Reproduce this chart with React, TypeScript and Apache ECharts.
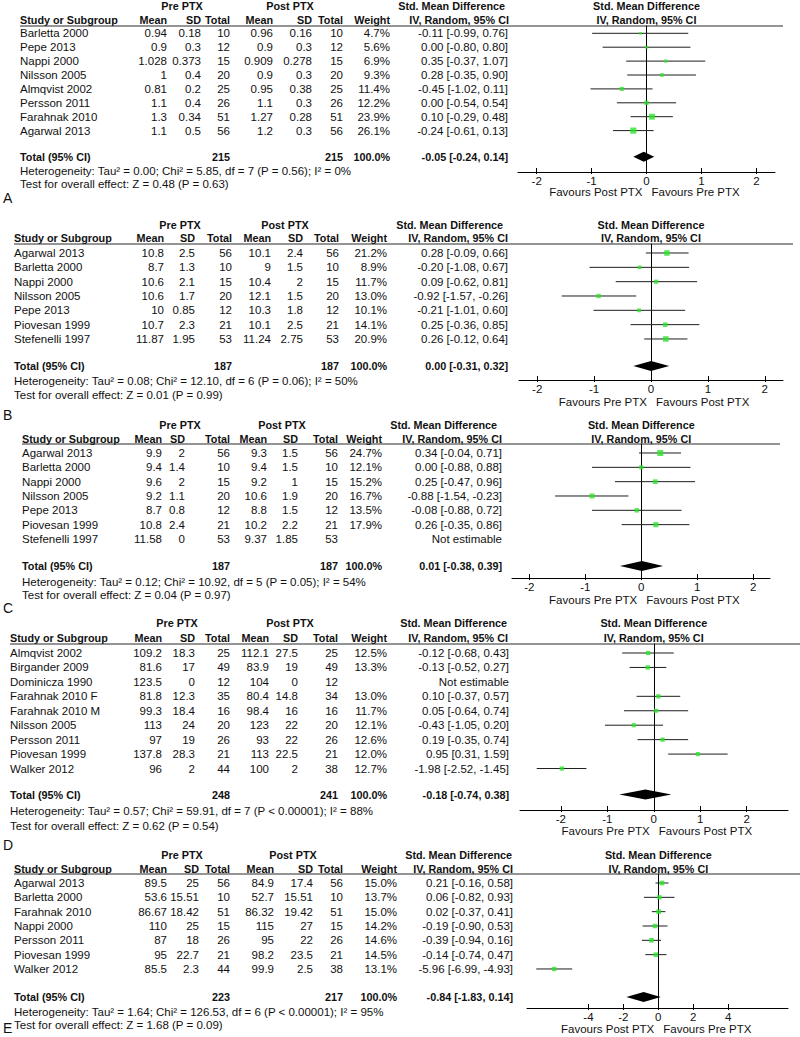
import React, { useEffect, useRef } from "react";
import * as echarts from "echarts";

// Row: study, pre mean, pre SD, pre total, post mean, post SD, post total, weight %, SMD, CI low, CI high
type Row = [string, string, string, number, string, string, number, number | null, number | null, number | null, number | null];

const A_ROWS: Row[] = [
  ["Barletta 2000", "0.94", "0.18", 10, "0.96", "0.16", 10, 4.7, -0.11, -0.99, 0.76],
  ["Pepe 2013", "0.9", "0.3", 12, "0.9", "0.3", 12, 5.6, 0.0, -0.8, 0.8],
  ["Nappi 2000", "1.028", "0.373", 15, "0.909", "0.278", 15, 6.9, 0.35, -0.37, 1.07],
  ["Nilsson 2005", "1", "0.4", 20, "0.9", "0.3", 20, 9.3, 0.28, -0.35, 0.9],
  ["Almqvist 2002", "0.81", "0.2", 25, "0.95", "0.38", 25, 11.4, -0.45, -1.02, 0.11],
  ["Persson 2011", "1.1", "0.4", 26, "1.1", "0.3", 26, 12.2, 0.0, -0.54, 0.54],
  ["Farahnak 2010", "1.3", "0.34", 51, "1.27", "0.28", 51, 23.9, 0.1, -0.29, 0.48],
  ["Agarwal 2013", "1.1", "0.5", 56, "1.2", "0.3", 56, 26.1, -0.24, -0.61, 0.13],
];
const A_TOTAL = [215, 215, -0.05, -0.24, 0.14];
const A_HET = "Heterogeneity: Tau² = 0.00; Chi² = 5.85, df = 7 (P = 0.56); I² = 0%";
const A_TEST = "Test for overall effect: Z = 0.48 (P = 0.63)";
const A_FAVOURS = ["Favours Post PTX", "Favours Pre PTX"];

const B_ROWS: Row[] = [
  ["Agarwal 2013", "10.8", "2.5", 56, "10.1", "2.4", 56, 21.2, 0.28, -0.09, 0.66],
  ["Barletta 2000", "8.7", "1.3", 10, "9", "1.5", 10, 8.9, -0.2, -1.08, 0.67],
  ["Nappi 2000", "10.6", "2.1", 15, "10.4", "2", 15, 11.7, 0.09, -0.62, 0.81],
  ["Nilsson 2005", "10.6", "1.7", 20, "12.1", "1.5", 20, 13.0, -0.92, -1.57, -0.26],
  ["Pepe 2013", "10", "0.85", 12, "10.3", "1.8", 12, 10.1, -0.21, -1.01, 0.6],
  ["Piovesan 1999", "10.7", "2.3", 21, "10.1", "2.5", 21, 14.1, 0.25, -0.36, 0.85],
  ["Stefenelli 1997", "11.87", "1.95", 53, "11.24", "2.75", 53, 20.9, 0.26, -0.12, 0.64],
];
const B_TOTAL = [187, 187, 0.0, -0.31, 0.32];
const B_HET = "Heterogeneity: Tau² = 0.08; Chi² = 12.10, df = 6 (P = 0.06); I² = 50%";
const B_TEST = "Test for overall effect: Z = 0.01 (P = 0.99)";
const B_FAVOURS = ["Favours Pre PTX", "Favours Post PTX"];

const C_ROWS: Row[] = [
  ["Agarwal 2013", "9.9", "2", 56, "9.3", "1.5", 56, 24.7, 0.34, -0.04, 0.71],
  ["Barletta 2000", "9.4", "1.4", 10, "9.4", "1.5", 10, 12.1, 0.0, -0.88, 0.88],
  ["Nappi 2000", "9.6", "2", 15, "9.2", "1", 15, 15.2, 0.25, -0.47, 0.96],
  ["Nilsson 2005", "9.2", "1.1", 20, "10.6", "1.9", 20, 16.7, -0.88, -1.54, -0.23],
  ["Pepe 2013", "8.7", "0.8", 12, "8.8", "1.5", 12, 13.5, -0.08, -0.88, 0.72],
  ["Piovesan 1999", "10.8", "2.4", 21, "10.2", "2.2", 21, 17.9, 0.26, -0.35, 0.86],
  ["Stefenelli 1997", "11.58", "0", 53, "9.37", "1.85", 53, null, null, null, null],
];
const C_TOTAL = [187, 187, 0.01, -0.38, 0.39];
const C_HET = "Heterogeneity: Tau² = 0.12; Chi² = 10.92, df = 5 (P = 0.05); I² = 54%";
const C_TEST = "Test for overall effect: Z = 0.04 (P = 0.97)";
const C_FAVOURS = ["Favours Pre PTX", "Favours Post PTX"];

const D_ROWS: Row[] = [
  ["Almqvist 2002", "109.2", "18.3", 25, "112.1", "27.5", 25, 12.5, -0.12, -0.68, 0.43],
  ["Birgander 2009", "81.6", "17", 49, "83.9", "19", 49, 13.3, -0.13, -0.52, 0.27],
  ["Dominicza 1990", "123.5", "0", 12, "104", "0", 12, null, null, null, null],
  ["Farahnak 2010 F", "81.8", "12.3", 35, "80.4", "14.8", 34, 13.0, 0.1, -0.37, 0.57],
  ["Farahnak 2010 M", "99.3", "18.4", 16, "98.4", "16", 16, 11.7, 0.05, -0.64, 0.74],
  ["Nilsson 2005", "113", "24", 20, "123", "22", 20, 12.1, -0.43, -1.05, 0.2],
  ["Persson 2011", "97", "19", 26, "93", "22", 26, 12.6, 0.19, -0.35, 0.74],
  ["Piovesan 1999", "137.8", "28.3", 21, "113", "22.5", 21, 12.0, 0.95, 0.31, 1.59],
  ["Walker 2012", "96", "2", 44, "100", "2", 38, 12.7, -1.98, -2.52, -1.45],
];
const D_TOTAL = [248, 241, -0.18, -0.74, 0.38];
const D_HET = "Heterogeneity: Tau² = 0.57; Chi² = 59.91, df = 7 (P < 0.00001); I² = 88%";
const D_TEST = "Test for overall effect: Z = 0.62 (P = 0.54)";
const D_FAVOURS = ["Favours Pre PTX", "Favours Post PTX"];

const E_ROWS: Row[] = [
  ["Agarwal 2013", "89.5", "25", 56, "84.9", "17.4", 56, 15.0, 0.21, -0.16, 0.58],
  ["Barletta 2000", "53.6", "15.51", 10, "52.7", "15.51", 10, 13.7, 0.06, -0.82, 0.93],
  ["Farahnak 2010", "86.67", "18.42", 51, "86.32", "19.42", 51, 15.0, 0.02, -0.37, 0.41],
  ["Nappi 2000", "110", "25", 15, "115", "27", 15, 14.2, -0.19, -0.9, 0.53],
  ["Persson 2011", "87", "18", 26, "95", "22", 26, 14.6, -0.39, -0.94, 0.16],
  ["Piovesan 1999", "95", "22.7", 21, "98.2", "23.5", 21, 14.5, -0.14, -0.74, 0.47],
  ["Walker 2012", "85.5", "2.3", 44, "99.9", "2.5", 38, 13.1, -5.96, -6.99, -4.93],
];
const E_TOTAL = [223, 217, -0.84, -1.83, 0.14];
const E_HET = "Heterogeneity: Tau² = 1.64; Chi² = 126.53, df = 6 (P < 0.00001); I² = 95%";
const E_TEST = "Test for overall effect: Z = 1.68 (P = 0.09)";
const E_FAVOURS = ["Favours Post PTX", "Favours Pre PTX"];

const TICKS_STD = [-2, -1, 0, 1, 2];
const TICKS_WIDE = [-4, -2, 0, 2, 4];
const LETTERS = ["A", "B", "C", "D", "E"];

// ---- layout (positions only) ----
const L = [
  { letterY: 198, nameX: 20, cols: [167, 201, 230, 273, 312, 343, 390, 508], hdrR: [505, 509], groupY: 6, headY: 20, preC: 182, postC: 290, lineY: 26, lineX2: 783, row0: 33.3, rowH: 13.9, totalIdx: 8.88, hetY: 170.5, testY: 183.5, gridL: 518, gridR: 775, xMin: -2.34, xMax: 2.34, axisY: 172, favY: 192 },
  { letterY: 415, nameX: 14, cols: [164, 195, 232, 271, 303, 339, 387, 508], hdrR: [503, 508], groupY: 225, headY: 238, preC: 180, postC: 285, lineY: 244, lineX2: 793, row0: 253, rowH: 14.33, totalIdx: 7.88, hetY: 381, testY: 395, gridL: 519, gridR: 783, xMin: -2.32, xMax: 2.32, axisY: 380, favY: 402 },
  { letterY: 608, nameX: 22, cols: [162, 185, 230, 267, 298, 338, 382, 502], hdrR: [497, 502], groupY: 425, headY: 439, preC: 180, postC: 282, lineY: 444, lineX2: 780, row0: 453, rowH: 14.33, totalIdx: 7.88, hetY: 582, testY: 595, gridL: 512, gridR: 770, xMin: -2.31, xMax: 2.3, axisY: 578, favY: 600 },
  { letterY: 845, nameX: 10, cols: [162, 195, 230, 269, 298, 338, 387, 509], hdrR: [507, 508], groupY: 623, headY: 638, preC: 177, postC: 290, lineY: 644, lineX2: 800, row0: 653, rowH: 14.44, totalIdx: 9.8, hetY: 811, testY: 826, gridL: 520, gridR: 788, xMin: -2.88, xMax: 2.89, axisY: 810, favY: 831 },
  { letterY: 1028, nameX: 14, cols: [167, 199, 230, 274, 313, 343, 397, 513], hdrR: [512, 513], groupY: 855, headY: 869, preC: 182, postC: 293, lineY: 874, lineX2: 800, row0: 883, rowH: 14.33, totalIdx: 7.95, hetY: 1012, testY: 1025, gridL: 527, gridR: 788, xMin: -7.52, xMax: 7.43, axisY: 1008, favY: 1029 },
];

const PANELS = [
  { rows: A_ROWS, total: A_TOTAL, het: A_HET, test: A_TEST, favours: A_FAVOURS, ticks: TICKS_STD },
  { rows: B_ROWS, total: B_TOTAL, het: B_HET, test: B_TEST, favours: B_FAVOURS, ticks: TICKS_STD },
  { rows: C_ROWS, total: C_TOTAL, het: C_HET, test: C_TEST, favours: C_FAVOURS, ticks: TICKS_STD },
  { rows: D_ROWS, total: D_TOTAL, het: D_HET, test: D_TEST, favours: D_FAVOURS, ticks: TICKS_STD },
  { rows: E_ROWS, total: E_TOTAL, het: E_HET, test: E_TEST, favours: E_FAVOURS, ticks: TICKS_WIDE },
];

const FAMILY = '"Liberation Sans", Arial, Helvetica, sans-serif';
const REG = `11.5px ${FAMILY}`;
const BOLD = `bold 10.8px ${FAMILY}`;
const INK = "#111111";

const fmt = (v: number) => v.toFixed(2);
const ciText = (s: number | null, lo: number | null, hi: number | null) =>
  s == null || lo == null || hi == null ? "Not estimable" : `${fmt(s)} [${fmt(lo)}, ${fmt(hi)}]`;

function txt(x: number, y: number, text: string, align: string, font: string = REG, size?: number) {
  return {
    type: "text",
    x,
    y,
    silent: true,
    style: {
      text,
      font: size ? `${size}px ${FAMILY}` : font,
      fill: INK,
      textAlign: align,
      textVerticalAlign: "middle",
    },
  };
}

function buildOption() {
  const graphic: any[] = [];
  const grid: any[] = [];
  const xAxis: any[] = [];
  const yAxis: any[] = [];
  const series: any[] = [];

  PANELS.forEach((p, i) => {
    const l = L[i];
    const c = l.cols;
    const zeroX = l.gridL + ((0 - l.xMin) / (l.xMax - l.xMin)) * (l.gridR - l.gridL);
    const rowY = (k: number) => l.row0 + k * l.rowH;

    // headers
    graphic.push(txt(l.preC, l.groupY, "Pre PTX", "center", BOLD));
    graphic.push(txt(l.postC, l.groupY, "Post PTX", "center", BOLD));
    graphic.push(txt(l.hdrR[0], l.groupY, "Std. Mean Difference", "right", BOLD));
    graphic.push(txt(zeroX, l.groupY, "Std. Mean Difference", "center", BOLD));
    graphic.push(txt(l.nameX, l.headY, "Study or Subgroup", "left", BOLD));
    graphic.push(txt(c[0], l.headY, "Mean", "right", BOLD));
    graphic.push(txt(c[1], l.headY, "SD", "right", BOLD));
    graphic.push(txt(c[2], l.headY, "Total", "right", BOLD));
    graphic.push(txt(c[3], l.headY, "Mean", "right", BOLD));
    graphic.push(txt(c[4], l.headY, "SD", "right", BOLD));
    graphic.push(txt(c[5], l.headY, "Total", "right", BOLD));
    graphic.push(txt(c[6], l.headY, "Weight", "right", BOLD));
    graphic.push(txt(l.hdrR[1], l.headY, "IV, Random, 95% CI", "right", BOLD));
    graphic.push(txt(zeroX, l.headY, "IV, Random, 95% CI", "center", BOLD));
    graphic.push({
      type: "line",
      silent: true,
      shape: { x1: l.nameX, y1: l.lineY, x2: l.lineX2, y2: l.lineY },
      style: { stroke: "#2a2a2a", lineWidth: 1 },
    });

    // rows
    p.rows.forEach((r, k) => {
      const y = rowY(k);
      graphic.push(txt(l.nameX, y, r[0], "left"));
      graphic.push(txt(c[0], y, r[1], "right"));
      graphic.push(txt(c[1], y, r[2], "right"));
      graphic.push(txt(c[2], y, String(r[3]), "right"));
      graphic.push(txt(c[3], y, r[4], "right"));
      graphic.push(txt(c[4], y, r[5], "right"));
      graphic.push(txt(c[5], y, String(r[6]), "right"));
      if (r[7] != null) graphic.push(txt(c[6], y, r[7].toFixed(1) + "%", "right"));
      graphic.push(txt(c[7], y, ciText(r[8], r[9], r[10]), "right"));
    });

    // total
    const ty = rowY(l.totalIdx);
    const t = p.total;
    graphic.push(txt(l.nameX, ty, "Total (95% CI)", "left", BOLD));
    graphic.push(txt(c[2], ty, String(t[0]), "right", BOLD));
    graphic.push(txt(c[5], ty, String(t[1]), "right", BOLD));
    graphic.push(txt(c[6], ty, "100.0%", "right", BOLD));
    graphic.push(txt(c[7], ty, ciText(t[2], t[3], t[4]), "right", BOLD));
    graphic.push(txt(l.nameX, l.hetY, p.het, "left"));
    graphic.push(txt(l.nameX, l.testY, p.test, "left"));
    graphic.push(txt(3, l.letterY, LETTERS[i], "left", REG, 14));

    // favours
    graphic.push(txt(zeroX - 4, l.favY, p.favours[0], "right"));
    graphic.push(txt(zeroX + 5, l.favY, p.favours[1], "left"));

    // grid + axes
    grid.push({
      left: l.gridL,
      top: l.lineY,
      width: l.gridR - l.gridL,
      height: l.axisY - l.lineY,
      containLabel: false,
      outerBoundsMode: "none",
    });
    xAxis.push({
      type: "value",
      gridIndex: i,
      min: l.xMin,
      max: l.xMax,
      position: "bottom",
      axisLine: { show: true, onZero: false, lineStyle: { color: "#000", width: 1 } },
      axisTick: { show: true, inside: true, length: 4, customValues: p.ticks, lineStyle: { color: "#000" } },
      axisLabel: { show: true, customValues: p.ticks, margin: 3, fontSize: 11.5, fontFamily: FAMILY, color: INK },
      splitLine: { show: false },
    });
    xAxis.push({
      type: "value",
      gridIndex: i,
      min: l.xMin,
      max: l.xMax,
      position: "bottom",
      axisLine: { show: false, onZero: false },
      axisTick: { show: true, inside: false, length: 2, customValues: p.ticks, lineStyle: { color: "#000" } },
      axisLabel: { show: false },
      splitLine: { show: false },
    });
    yAxis.push({
      type: "value",
      gridIndex: i,
      inverse: true,
      min: (l.lineY - l.row0) / l.rowH,
      max: (l.axisY - l.row0) / l.rowH,
      axisLine: { show: true, onZero: true, onZeroAxisIndex: 2 * i, lineStyle: { color: "#000", width: 1 } },
      axisTick: { show: false },
      axisLabel: { show: false },
      splitLine: { show: false },
    });

    const est = p.rows
      .map((r, k) => ({ k, w: r[7], s: r[8], lo: r[9], hi: r[10] }))
      .filter((d) => d.s != null);

    series.push({
      type: "custom",
      xAxisIndex: 2 * i,
      yAxisIndex: i,
      silent: true,
      z: 2,
      data: est.map((d) => [d.lo, d.hi, d.k]),
      encode: { x: [0, 1], y: 2 },
      renderItem: (params: any, api: any) => {
        const a = api.coord([api.value(0), api.value(2)]);
        const b = api.coord([api.value(1), api.value(2)]);
        return {
          type: "line",
          shape: { x1: a[0], y1: a[1], x2: b[0], y2: b[1] },
          style: { stroke: "#1e1e1e", lineWidth: 1 },
        };
      },
    });
    series.push({
      type: "scatter",
      xAxisIndex: 2 * i,
      yAxisIndex: i,
      silent: true,
      z: 3,
      symbol: "rect",
      symbolSize: (v: number[]) => 1.2 * Math.sqrt(v[2]),
      itemStyle: { color: "#2be32b" },
      data: est.map((d) => [d.s, d.k, d.w]),
    });
    series.push({
      type: "custom",
      xAxisIndex: 2 * i,
      yAxisIndex: i,
      silent: true,
      z: 4,
      data: [[t[2], t[3], t[4], l.totalIdx]],
      encode: { x: [0, 1, 2], y: 3 },
      renderItem: (params: any, api: any) => {
        const c0 = api.coord([api.value(0), api.value(3)]);
        const lo = api.coord([api.value(1), api.value(3)]);
        const hi = api.coord([api.value(2), api.value(3)]);
        return {
          type: "polygon",
          shape: {
            points: [
              [lo[0], lo[1]],
              [c0[0], c0[1] - 5],
              [hi[0], hi[1]],
              [c0[0], c0[1] + 5],
            ],
          },
          style: { fill: "#000" },
        };
      },
    });
  });

  return {
    animation: false,
    backgroundColor: "#ffffff",
    grid,
    xAxis,
    yAxis,
    series,
    graphic,
  };
}

export default function App() {
  const ref = useRef<HTMLDivElement>(null);
  useEffect(() => {
    if (!ref.current) return;
    const chart = echarts.init(ref.current, null, { renderer: "svg" });
    chart.setOption(buildOption() as any);
    return () => chart.dispose();
  }, []);
  return (
    <div
      ref={ref}
      style={{ position: "absolute", left: 0, top: 0, width: 800, height: 1037, background: "#fff" }}
    />
  );
}
